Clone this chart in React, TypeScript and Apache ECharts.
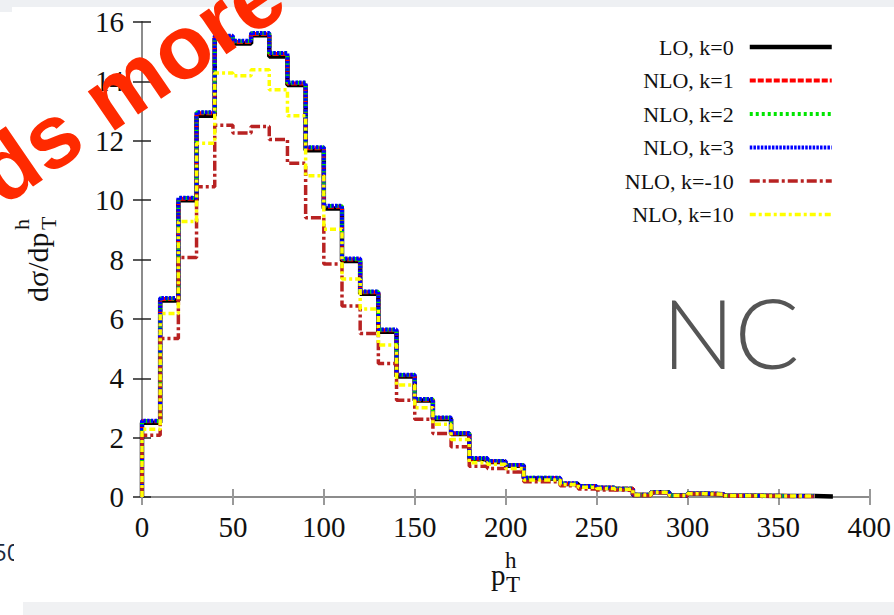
import React, { useEffect, useRef } from "react";
import * as echarts from "echarts";

// ---------- data ----------
const binLeftEdges = [
  0, 10, 20, 30, 40, 50, 60, 70, 80, 90, 100, 110, 120, 130, 140, 150, 160, 170, 180, 190,
  200, 210, 220, 230, 240, 250, 260, 270, 280, 290, 300, 310, 320, 330, 340, 350, 360, 370,
];
const binWidth = 10;

const seriesNames = ["LO, k=0", "NLO, k=1", "NLO, k=2", "NLO, k=3", "NLO, k=-10", "NLO, k=10"];

const loK0 = [
  2.5, 6.62, 10.0, 12.84, 15.45, 15.28, 15.55, 14.84, 13.88, 11.68, 9.72, 7.95, 6.85, 5.57, 4.06,
  3.25, 2.63, 2.12, 1.27, 1.18, 1.05, 0.62, 0.62, 0.44, 0.35, 0.3, 0.27, 0.07, 0.16, 0.05, 0.11,
  0.09, 0.04, 0.04, 0.03, 0.03, 0.03, 0.02,
];
const nloK1 = [
  2.55, 6.67, 10.05, 12.93, 15.5, 15.33, 15.6, 14.92, 13.93, 11.75, 9.78, 8.0, 6.9, 5.62, 4.1,
  3.28, 2.66, 2.14, 1.29, 1.2, 1.07, 0.64, 0.64, 0.45, 0.36, 0.31, 0.28, 0.08, 0.17, 0.05, 0.12,
  0.1, 0.04, 0.04, 0.04, 0.03, 0.03,
];
const nloK2 = [
  2.56, 6.69, 10.07, 12.95, 15.52, 15.35, 15.62, 14.95, 13.95, 11.77, 9.8, 8.02, 6.91, 5.63, 4.11,
  3.29, 2.67, 2.15, 1.3, 1.21, 1.08, 0.65, 0.64, 0.45, 0.36, 0.31, 0.28, 0.08, 0.17, 0.05, 0.12,
  0.1, 0.04, 0.04, 0.04, 0.03, 0.03,
];
const nloK3 = [
  2.57, 6.7, 10.08, 12.96, 15.54, 15.37, 15.63, 14.96, 13.96, 11.78, 9.81, 8.03, 6.92, 5.64, 4.12,
  3.3, 2.68, 2.16, 1.31, 1.21, 1.08, 0.65, 0.65, 0.46, 0.37, 0.32, 0.28, 0.08, 0.17, 0.05, 0.12,
  0.1, 0.04, 0.04, 0.04, 0.03, 0.03,
];
const nloKm10 = [
  2.08, 5.34, 8.07, 10.45, 12.52, 12.26, 12.48, 12.04, 11.24, 9.41, 7.85, 6.43, 5.51, 4.5, 3.26,
  2.62, 2.14, 1.69, 1.04, 0.96, 0.84, 0.51, 0.51, 0.38, 0.27, 0.24, 0.22, 0.05, 0.14, 0.04, 0.1,
  0.08, 0.03, 0.03, 0.03, 0.02, 0.02,
];
const nloK10 = [
  2.28, 6.18, 9.28, 11.92, 14.28, 14.19, 14.39, 13.72, 12.84, 10.82, 9.02, 7.34, 6.33, 5.12, 3.77,
  3.01, 2.45, 1.94, 1.15, 1.1, 0.96, 0.57, 0.57, 0.42, 0.33, 0.29, 0.26, 0.07, 0.16, 0.05, 0.11,
  0.09, 0.04, 0.04, 0.03, 0.03, 0.03,
];

const xMin = 0;
const xMax = 400;
const xInterval = 50;
const yMin = 0;
const yMax = 16;
const yInterval = 2;

const SERIF = "'Liberation Serif', 'Times New Roman', serif";

function toSteps(vals: number[]): [number, number][] {
  const pts: [number, number][] = [[binLeftEdges[0], 0]];
  vals.forEach((v, i) => pts.push([binLeftEdges[i], v]));
  const last = vals.length - 1;
  pts.push([binLeftEdges[last] + binWidth, vals[last]]);
  return pts;
}

const seriesStyles = [
  { values: loK0, color: "#000000", width: 4.5, type: "solid" as any },
  { values: nloK1, color: "#ff0000", width: 4, type: [6, 2] as any },
  { values: nloK2, color: "#00e600", width: 4, type: [3, 3] as any },
  { values: nloK3, color: "#0000ff", width: 4, type: [2.5, 1.2] as any },
  { values: nloKm10, color: "#b82222", width: 3.5, type: [10, 3, 3, 3] as any },
  { values: nloK10, color: "#ffff00", width: 3.5, type: [6, 3, 3, 3] as any },
];

export default function App() {
  const ref = useRef<HTMLDivElement>(null);

  useEffect(() => {
    document.body.style.margin = "0";
    if (!ref.current) return;
    const chart = echarts.init(ref.current, undefined, { renderer: "svg" });

    const frameLine = { show: true, lineStyle: { color: "#8c8c8c", width: 2 } };

    const option: any = {
      animation: false,
      backgroundColor: "#ffffff",
      grid: { left: 142, right: 24, top: 22, bottom: 118, containLabel: false },
      xAxis: [
        {
          type: "value",
          min: xMin,
          max: xMax,
          interval: xInterval,
          position: "bottom",
          axisLine: frameLine,
          axisTick: { show: true, inside: true, length: 8, lineStyle: { color: "#999", width: 2 } },
          axisLabel: { fontFamily: SERIF, fontSize: 29, color: "#111", margin: 15 },
          splitLine: { show: false },
        },
        {
          type: "value",
          min: xMin,
          max: xMax,
          interval: xInterval,
          position: "top",
          axisLine: frameLine,
          axisTick: { show: true, inside: true, length: 8, lineStyle: { color: "#999", width: 2 } },
          axisLabel: { show: false },
          splitLine: { show: false },
        },
      ],
      yAxis: [
        {
          type: "value",
          min: yMin,
          max: yMax,
          interval: yInterval,
          position: "left",
          axisLine: frameLine,
          axisTick: { show: true, inside: true, length: 9, lineStyle: { color: "#222", width: 1.5 } },
          axisLabel: { fontFamily: SERIF, fontSize: 29, color: "#111", margin: 18 },
          splitLine: { show: false },
        },
        {
          type: "value",
          min: yMin,
          max: yMax,
          interval: yInterval,
          position: "right",
          axisLine: frameLine,
          axisTick: { show: true, inside: true, length: 9, lineStyle: { color: "#222", width: 1.5 } },
          axisLabel: { show: false },
          splitLine: { show: false },
        },
      ],
      legend: {
        orient: "vertical",
        right: 55,
        top: 30,
        align: "right",
        itemWidth: 82,
        itemHeight: 12,
        itemGap: 9.5,
        selectedMode: false,
        data: seriesNames,
        textStyle: {
          fontFamily: SERIF,
          fontSize: 22,
          color: "#111",
          lineHeight: 24,
          padding: [0, 11, 0, 0],
        },
        itemStyle: { opacity: 0 },
        lineStyle: { width: "inherit" },
      },
      series: seriesStyles.map((s, i) => ({
        name: seriesNames[i],
        type: "line",
        step: "end",
        symbol: "none",
        xAxisIndex: 0,
        yAxisIndex: 0,
        data: toSteps(s.values),
        lineStyle: { color: s.color, width: s.width, type: s.type, cap: "butt" },
        itemStyle: { color: s.color },
        z: 2 + i,
      })),
      graphic: [
        { type: "rect", z: 0, shape: { x: 0, y: 0, width: 894, height: 7 }, style: { fill: "#eef0f3" } },
        { type: "rect", z: 0, shape: { x: 0, y: 0, width: 12, height: 12 }, style: { fill: "#eef0f3" } },
        { type: "rect", z: 0, shape: { x: 23, y: 602, width: 871, height: 13 }, style: { fill: "#f0f1f3" } },
        {
          type: "text",
          z: 50,
          x: 662,
          y: 331,
          style: {
            text: "NC",
            fontFamily: "Lato, 'Open Sans', sans-serif",
            fontWeight: 300,
            fontSize: 96,
            fill: "#555555",
            textAlign: "left",
            textVerticalAlign: "middle",
          },
        },
        {
          type: "text",
          z: 50,
          x: -7,
          y: 551,
          style: {
            text: "50",
            fontFamily: "'Open Sans', sans-serif",
            fontSize: 24,
            fill: "#1b2b40",
            textAlign: "left",
            textVerticalAlign: "middle",
          },
        },
        { type: "rect", z: 60, shape: { x: 14, y: 535, width: 40, height: 34 }, style: { fill: "#ffffff" } },
        {
          type: "group",
          x: 47,
          y: 302,
          rotation: Math.PI / 2,
          children: [
            {
              type: "text",
              x: 0,
              y: -10,
              style: { text: "dσ/dp", fontFamily: SERIF, fontSize: 30, fill: "#111", textAlign: "left", textVerticalAlign: "middle" },
            },
            {
              type: "text",
              x: 72,
              y: -26,
              style: { text: "h", fontFamily: SERIF, fontSize: 22, fill: "#111", textAlign: "left", textVerticalAlign: "middle" },
            },
            {
              type: "text",
              x: 72,
              y: 1,
              style: { text: "T", fontFamily: SERIF, fontSize: 22, fill: "#111", textAlign: "left", textVerticalAlign: "middle" },
            },
          ],
        },
        {
          type: "text",
          x: 491,
          y: 575,
          style: { text: "p", fontFamily: SERIF, fontSize: 29, fill: "#111", textAlign: "left", textVerticalAlign: "middle" },
        },
        {
          type: "text",
          x: 506,
          y: 584,
          style: { text: "T", fontFamily: SERIF, fontSize: 23, fill: "#111", textAlign: "left", textVerticalAlign: "middle" },
        },
        {
          type: "text",
          x: 505,
          y: 560,
          style: { text: "h", fontFamily: SERIF, fontSize: 23, fill: "#111", textAlign: "left", textVerticalAlign: "middle" },
        },
        {
          type: "text",
          z: 100,
          x: -15,
          y: 182,
          rotation: 0.6,
          style: {
            text: "ds more",
            fontFamily: "'Liberation Sans', Arial, sans-serif",
            fontWeight: "bold",
            fontSize: 90,
            fill: "#ff2a00",
            textAlign: "left",
            textVerticalAlign: "middle",
          },
        },
      ],
    };

    chart.setOption(option);
    return () => chart.dispose();
  }, []);

  return (
    <div
      ref={ref}
      style={{ position: "absolute", left: 0, top: 0, width: 894, height: 615, background: "#fff" }}
    />
  );
}
